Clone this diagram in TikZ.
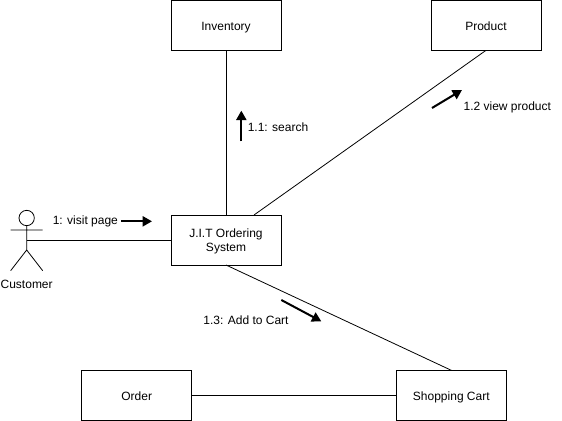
\documentclass[tikz,border=0pt]{standalone}
\usepackage{fontspec}
\setmainfont{Liberation Sans}
\usetikzlibrary{positioning}
\usetikzlibrary{arrows.meta}
\tikzset{
  objbox/.style={draw=black,fill=white,font=\fontsize{9}{10.5}\selectfont,align=center,inner sep=0pt,minimum width=82.5pt,minimum height=37.5pt},
  onebox/.style={objbox,text height=8pt,text depth=0pt},
  msglabel/.style={font=\fontsize{9}{10.5}\selectfont,inner sep=0pt},
  msgarrow/.style={-{Triangle[length=7pt,width=7.5pt]},line width=1.5pt},
  link/.style={draw=black,line width=0.6pt}
}
\begin{document}
\begin{tikzpicture}[x=1pt,y=-1pt,line width=0.6pt]
\useasboundingbox (0,0) rectangle (421.5,315.75);
% objects
\node[onebox] (inventory) at (169.5,19) {Inventory};
\node[onebox] (product) at (364.5,19) {Product};
\node[objbox,text depth=0pt] (system) at (169.5,180) {J.I.T Ordering\\System};
\node[onebox] (order) at (102.5,296.5) {Order};
\node[onebox] (cart) at (338.5,296.5) {Shopping Cart};
% actor
\node[draw,circle,minimum size=11.5pt,inner sep=0pt] (head) at (20,163.5) {};
\coordinate (hip) at (20,187.5);
\coordinate (neck) at (20,180.5);
\coordinate (armL) at (8,172.5);
\coordinate (armR) at (32,172.5);
\coordinate (footL) at (8,203);
\coordinate (footR) at (32,203);
\draw (head) -- (hip) (armL) -- (armR) (hip) -- (footL) (hip) -- (footR);
\node[msglabel] (customer) at (20,213.5) {Customer};
% links
\draw[link] (neck) -- (system.west |- neck);
\draw[link] (inventory) -- (system);
\coordinate (systemtop) at (190.5,161.25);
\coordinate (producttop) at (364.5,37.75);
\draw[link] (systemtop) -- (producttop);
\coordinate (systemlow) at (169.5,198.75);
\coordinate (carttop) at (338.5,277.75);
\draw[link] (systemlow) -- (carttop);
\draw[link] (order) -- (cart);
% messages
\node[msglabel] (visit) at (64,166) {1: visit page};
\coordinate (visitA) at (91,166);
\coordinate (visitB) at (114,166);
\draw[msgarrow] (visitA) -- (visitB);
\node[msglabel] (search) at (208.5,95.5) {1.1: search};
\coordinate (searchA) at (181,106);
\coordinate (searchB) at (181,83);
\draw[msgarrow] (searchA) -- (searchB);
\node[msglabel] (view) at (380.5,80.5) {1.2 view product};
\coordinate (viewA) at (324,81);
\coordinate (viewB) at (346.5,67.5);
\draw[msgarrow] (viewA) -- (viewB);
\node[msglabel] (add) at (184.5,240.5) {1.3: Add to Cart};
\coordinate (addA) at (211,225);
\coordinate (addB) at (241,241);
\draw[msgarrow] (addA) -- (addB);
\end{tikzpicture}
\end{document}
